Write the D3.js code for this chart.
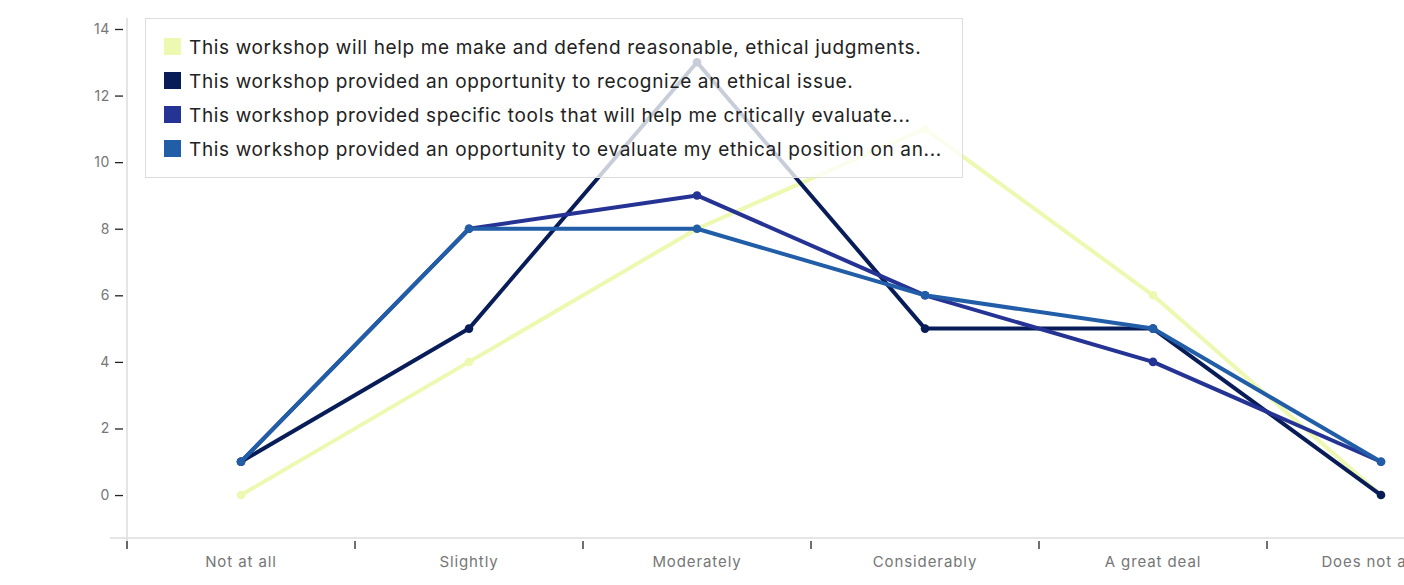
<!DOCTYPE html>
<html>
<head>
<meta charset="utf-8">
<script src="https://cdn.jsdelivr.net/npm/d3@7"></script>
<style>
  body { margin: 0; background: #fff; }
  svg { display: block; font-family: Inter, "Noto Sans", sans-serif; }
  .legendtext { font-size: 19px; fill: #222; letter-spacing: 0.65px; }
  .xlabel { font-size: 15px; fill: #767676; letter-spacing: 0.9px; }
  .ylabel { font-size: 14px; fill: #767676; letter-spacing: 0.6px; }
</style>
</head>
<body>
<script>
// data
var categories = ["Not at all", "Slightly", "Moderately", "Considerably", "A great deal", "Does not apply"];
var seriesNames = [
  "This workshop will help me make and defend reasonable, ethical judgments.",
  "This workshop provided an opportunity to recognize an ethical issue.",
  "This workshop provided specific tools that will help me critically evaluate...",
  "This workshop provided an opportunity to evaluate my ethical position on an..."
];
var judgments = [0, 4, 8, 11, 6, 0];
var recognize = [1, 5, 13, 5, 5, 0];
var tools = [1, 8, 9, 6, 4, 1];
var position = [1, 8, 8, 6, 5, 1];
var yTicks = [0, 2, 4, 6, 8, 10, 12, 14];
var colors = ["#edf8b1", "#081d58", "#253494", "#225ea8"];

var seriesValues = [judgments, recognize, tools, position];

var width = 1404, height = 585;

let svg = d3.select("body").append("svg")
    .attr("width", width)
    .attr("height", height);

// scales: the band axis runs past the right edge, as in the picture
var x = d3.scaleBand()
    .domain(categories)
    .range([127, 127 + 6 * 228]);

var y = d3.scaleLinear()
    .domain([-1.29, 14.33])
    .range([538, 18]);

// axis lines
svg.append("line")
    .attr("x1", 127).attr("x2", 127)
    .attr("y1", y(14.33)).attr("y2", 548)
    .attr("stroke", "#ddd").attr("stroke-width", 1.5);

svg.append("line")
    .attr("x1", 110).attr("x2", width)
    .attr("y1", 538).attr("y2", 538)
    .attr("stroke", "#ddd").attr("stroke-width", 1.5);

// y ticks
var yAxis = d3.axisLeft(y)
    .tickValues(yTicks)
    .tickSize(8)
    .tickPadding(5);

var yg = svg.append("g")
    .attr("transform", "translate(123,0)")
    .call(yAxis);
yg.select(".domain").remove();
yg.selectAll(".tick line").attr("stroke", "#222").attr("stroke-width", 1.3);
yg.selectAll(".tick text").attr("class", "ylabel").attr("fill", null);
yg.attr("font-family", null).attr("font-size", null);

// x ticks at band edges
var xEdges = categories.map(function(c) { return x(c); });
svg.selectAll(".xtick")
    .data(xEdges)
    .enter().append("line")
    .attr("class", "xtick")
    .attr("x1", function(d) { return d; })
    .attr("x2", function(d) { return d; })
    .attr("y1", 541).attr("y2", 549)
    .attr("stroke", "#222").attr("stroke-width", 1.3);

svg.selectAll(".xlabel")
    .data(categories)
    .enter().append("text")
    .attr("class", "xlabel")
    .attr("x", function(d) { return x(d) + x.bandwidth() / 2; })
    .attr("y", 567)
    .attr("text-anchor", "middle")
    .text(function(d) { return d; });

// lines
var line = d3.line()
    .x(function(d, i) { return x(categories[i]) + x.bandwidth() / 2; })
    .y(function(d) { return y(d); });

var groups = svg.selectAll(".series")
    .data(seriesValues)
    .enter().append("g")
    .attr("class", "series");

groups.append("path")
    .attr("d", function(d) { return line(d); })
    .attr("fill", "none")
    .attr("stroke", function(d, i) { return colors[i]; })
    .attr("stroke-width", 4)
    .attr("stroke-linejoin", "round");

groups.each(function(vals, si) {
  d3.select(this).selectAll("circle")
    .data(vals)
    .enter().append("circle")
    .attr("cx", function(d, i) { return x(categories[i]) + x.bandwidth() / 2; })
    .attr("cy", function(d) { return y(d); })
    .attr("r", 4.3)
    .attr("fill", colors[si]);
});

// legend, drawn over the lines with a see-through fill
var legend = svg.append("g");
legend.append("rect")
    .attr("x", 145.5).attr("y", 18.5)
    .attr("width", 817).attr("height", 159)
    .attr("fill", "rgba(255,255,255,0.78)")
    .attr("stroke", "#ddd");

var rows = legend.selectAll(".legendrow")
    .data(seriesNames)
    .enter().append("g")
    .attr("class", "legendrow")
    .attr("transform", function(d, i) { return "translate(164," + (38 + i * 34) + ")"; });

rows.append("rect")
    .attr("width", 17).attr("height", 17)
    .attr("fill", function(d, i) { return colors[i]; });

rows.append("text")
    .attr("class", "legendtext")
    .attr("x", 25).attr("y", 15.5)
    .text(function(d) { return d; });
</script>
</body>
</html>
